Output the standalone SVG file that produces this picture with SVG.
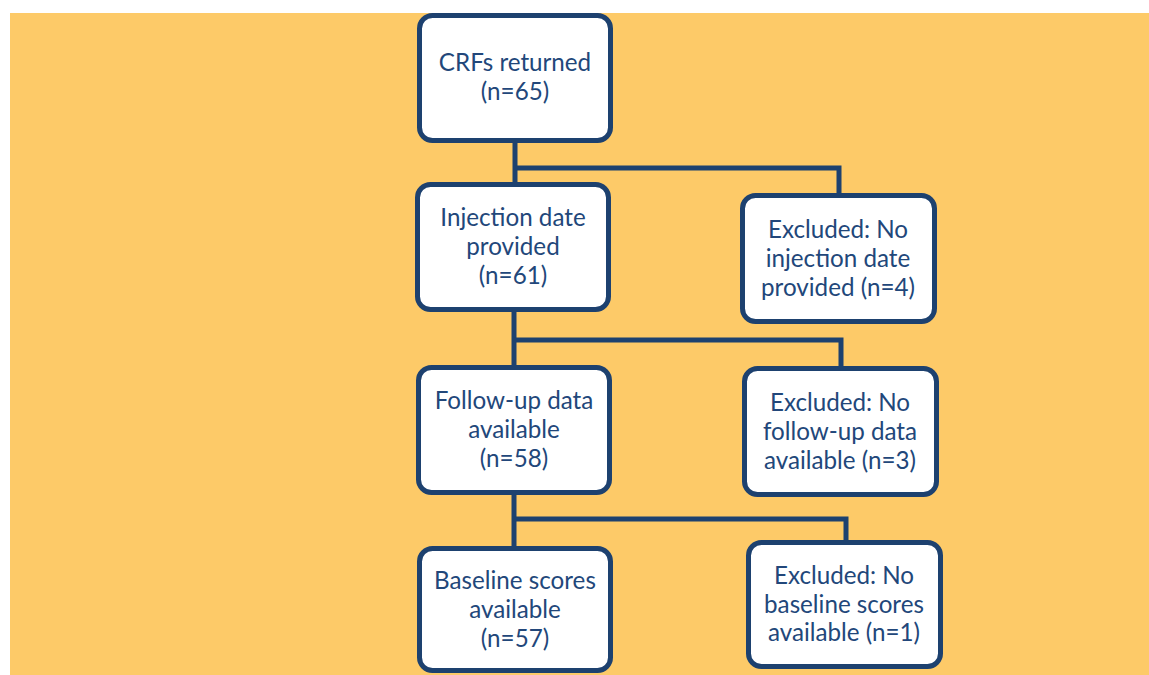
<svg xmlns="http://www.w3.org/2000/svg" width="1149" height="675" viewBox="0 0 1149 675">
<style>
.box{fill:#ffffff;stroke:#1d416f;stroke-width:5}
.lbl{font-family:Lato,"Noto Sans",sans-serif;font-size:24.2px;fill:#22477a;text-anchor:middle}
.con{fill:none;stroke:#1d416f;stroke-width:5;stroke-linejoin:miter}
</style>
<rect x="0" y="0" width="1149" height="675" fill="#ffffff"/>
<rect x="10" y="13" width="1139" height="662" fill="#fdca68"/>
<g id="connectors">
<path class="con" d="M515,143 V183"/>
<path class="con" d="M515,168 H839 V195"/>
<path class="con" d="M514,312 V366"/>
<path class="con" d="M514,340 H841 V368"/>
<path class="con" d="M514,495 V548"/>
<path class="con" d="M514,519 H846 V542"/>
</g>
<g id="n1">
<rect class="box" x="419.5" y="15.5" width="191" height="125" rx="13"/>
<text class="lbl" x="515" y="71">CRFs returned</text>
<text class="lbl" x="515" y="100">(n=65)</text>
</g>
<g id="n2">
<rect class="box" x="417.5" y="184.5" width="191" height="125" rx="13"/>
<text class="lbl" x="513" y="226">Injection date</text>
<text class="lbl" x="513" y="255">provided</text>
<text class="lbl" x="513" y="284">(n=61)</text>
</g>
<g id="x1">
<rect class="box" x="742.5" y="195.5" width="192" height="126" rx="13"/>
<text class="lbl" x="838" y="238">Excluded: No</text>
<text class="lbl" x="838" y="267">injection date</text>
<text class="lbl" x="838" y="296">provided (n=4)</text>
</g>
<g id="n3">
<rect class="box" x="418.5" y="367.5" width="191" height="125" rx="13"/>
<text class="lbl" x="514" y="409">Follow-up data</text>
<text class="lbl" x="514" y="438">available</text>
<text class="lbl" x="514" y="467">(n=58)</text>
</g>
<g id="x2">
<rect class="box" x="744.5" y="368.5" width="192" height="126" rx="13"/>
<text class="lbl" x="840" y="411">Excluded: No</text>
<text class="lbl" x="840" y="440">follow-up data</text>
<text class="lbl" x="840" y="469">available (n=3)</text>
</g>
<g id="n4">
<rect class="box" x="419.5" y="548.5" width="191" height="122" rx="13"/>
<text class="lbl" x="515" y="589">Baseline scores</text>
<text class="lbl" x="515" y="618">available</text>
<text class="lbl" x="515" y="647">(n=57)</text>
</g>
<g id="x3">
<rect class="box" x="748.5" y="542.5" width="192" height="124" rx="13"/>
<text class="lbl" x="844" y="584">Excluded: No</text>
<text class="lbl" x="844" y="613">baseline scores</text>
<text class="lbl" x="844" y="641">available (n=1)</text>
</g>
</svg>
